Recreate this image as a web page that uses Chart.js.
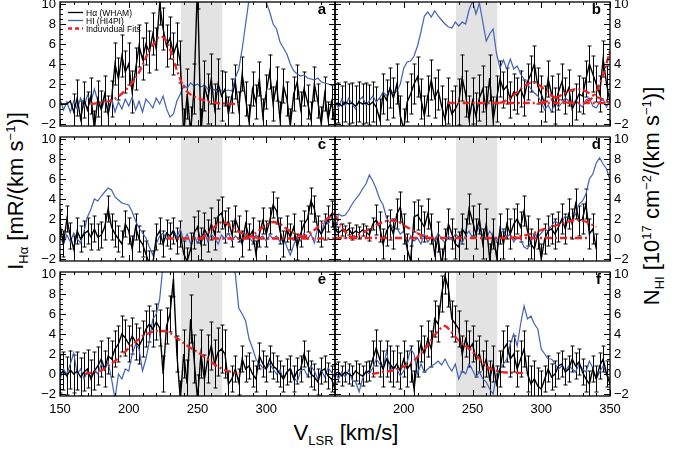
<!DOCTYPE html>
<html>
<head>
<meta charset="utf-8">
<script src="https://cdn.jsdelivr.net/npm/chart.js@4.4.0/dist/chart.umd.min.js"></script>
<style>
  body { margin: 0; background: #fff; }
  #wrap { position: relative; width: 678px; height: 457px; overflow: hidden; background: #fff;
          font-family: "Liberation Sans", Arial, sans-serif; color: #000; }
  canvas { position: absolute; }
  .title { position: absolute; white-space: nowrap; font-size: 22px; line-height: 1; }
  .title sub, .title sup { font-size: 13px; line-height: 0; }
  .rot { transform: translate(-50%, -50%) rotate(-90deg); }
  .hor { transform: translate(-50%, -50%); }
</style>
</head>
<body>
<div id="wrap">
  <div class="title rot" style="left:16px; top:191px;">I<sub>Hα</sub> [mR/(km s<sup>−1</sup>)]</div>
  <div class="title rot" style="left:652px; top:196px;">N<sub>HI</sub> [10<sup>17</sup> cm<sup>−2</sup>/(km s<sup>−1</sup>)]</div>
  <div class="title hor" style="left:346px; top:433px;">V<sub>LSR</sub> [km/s]</div>
</div>
<script>
// velocity grid shared by all spectra (km/s)
const vel = [150,152.5,155,157.5,160,162.5,165,167.5,170,172.5,
             175,177.5,180,182.5,185,187.5,190,192.5,195,197.5,
             200,202.5,205,207.5,210,212.5,215,217.5,220,222.5,
             225,227.5,230,232.5,235,237.5,240,242.5,245,247.5,
             250,252.5,255,257.5,260,262.5,265,267.5,270,272.5,
             275,277.5,280,282.5,285,287.5,290,292.5,295,297.5,
             300,302.5,305,307.5,310,312.5,315,317.5,320,322.5,
             325,327.5,330,332.5,335,337.5,340,342.5,345,347.5,
             350];

const xTicks = [150, 200, 250, 300, 350];
const yTicks = [-2, 0, 2, 4, 6, 8, 10];
const band = [238, 268];
const letters = ['a', 'b', 'c', 'd', 'e', 'f'];
const legendLabels = ['Hα (WHAM)', 'HI (HI4PI)', 'Induvidual Fits'];

// H-alpha (WHAM), mR/(km/s)
const haA = [0,0,0,0.3,-0.8,0.6,-1.5,0.4,-0.6,0.8,
             -2.5,0.5,-0.5,1.0,-1.0,0.5,4.0,2.5,4.8,3.2,
             4.0,1.2,3.5,5.8,4.5,6.0,5.2,7.0,5.5,10.0,
             7.5,5.8,6.6,5.0,6.0,4.2,-3.0,1.0,-2.8,1.5,
             12,-3.0,1.8,0.5,2.5,-0.5,2.0,0.8,1.5,-1.0,
             0.8,2.2,-0.5,3.0,0.5,-1.8,1.5,0.2,2.5,-1.2,
             1.2,3.2,0.0,2.0,-1.5,1.8,0.5,-2.2,1.0,2.2,
             -0.5,1.5,0.2,-1.5,2.0,0.3,-2.0,1.0,-1.5,0.2,
             -2.0];
const haB = [0.0,0.1,-0.2,0.2,0.0,0.1,-0.2,0.2,0.0,0.1,
             -0.1,0.2,-0.3,-1.5,1.0,0.4,1.6,0.6,2.0,-1.2,
             -2.5,0.2,1.0,2.0,2.7,0.5,-1.2,0.8,2.4,0.6,
             1.4,-0.2,-1.5,0.3,-1.0,-0.5,0.2,2.6,1.0,-1.5,
             0.3,-1.2,0.6,1.5,-0.6,2.6,-1.6,0.5,2.5,1.4,
             1.8,0.4,1.2,0.8,1.5,0.6,2.2,3.0,4.0,1.8,
             1.0,0.0,2.5,1.0,-0.2,1.2,2.2,0.8,1.6,-0.5,
             0.2,1.0,0.8,2.5,4.0,3.0,2.0,1.0,4.5,2.0,
             0.2];
const haC = [1.5,-0.5,2.0,0.3,-1.0,0.8,0.0,0.5,0.8,0.2,
             1.0,0.2,0.4,1.2,3.0,1.2,0.5,0.0,-0.5,1.5,
             0.8,-1.0,1.2,0.0,-0.5,-1.5,-2.5,-2.5,0.2,0.8,
             -0.5,0.6,0.3,0.8,-0.2,0.5,-1.5,-2.2,-1.0,0.6,
             1.2,-0.5,1.0,0.3,1.5,0.5,2.3,2.6,1.2,1.8,
             0.5,2.0,1.0,-0.5,1.5,0.2,0.8,-1.5,0.5,1.8,
             0.5,1.8,3.4,2.8,0.8,-0.5,1.0,0.2,1.2,-0.8,
             0.5,1.5,2.0,3.8,3.0,1.0,0.5,1.2,2.0,2.5,
             0.6];
const haD = [1.0,0.6,0.9,0.7,1.0,0.5,0.8,0.6,0.9,0.7,
             0.4,1.5,1.9,1.2,-0.5,0.8,1.4,0.5,2.5,3.2,
             1.0,-1.0,-2.2,2.2,2.4,1.8,1.2,2.5,1.0,-1.5,
             0.2,-2.5,-0.5,1.5,0.5,-0.5,-0.8,1.0,0.5,3.0,
             1.8,0.5,2.0,-0.5,1.5,-2.0,0.5,-1.8,1.0,-0.5,
             1.5,0.5,1.5,2.0,1.2,2.8,0.8,-0.5,-1.0,0.5,
             -2.0,0.0,0.8,1.0,0.5,1.2,2.0,1.0,2.5,1.5,
             3.5,1.8,2.0,3.5,0.5,1.0,-1.0,null,null,null,
             null];
const haE = [0.0,0.3,-0.2,0.4,0.0,0.3,-0.3,0.2,0.5,-0.5,
             0.3,0.8,1.5,0.5,1.8,1.5,2.5,3.0,4.0,3.6,
             3.0,3.8,3.2,2.8,3.5,4.5,5.0,4.5,5.2,4.6,
             0.0,4.8,6.0,9.5,2.0,-2.5,2.0,-1.0,5.5,1.5,
             -2.5,2.0,-0.5,1.5,2.8,1.0,2.2,2.5,2.0,-1.0,
             -0.5,0.5,-0.8,1.5,0.5,0.8,0.0,-0.5,1.8,1.0,
             0.5,1.5,0.8,0.5,0.0,-0.5,0.2,0.5,-0.5,0.3,
             0.5,2.0,1.0,0.0,-0.3,-0.8,0.3,0.5,-0.2,-0.5,
             -1.5];
const haF = [0.0,0.2,-0.2,0.2,0.0,-0.2,0.3,0.0,-0.2,0.2,
             0.3,1.5,2.6,1.5,0.5,1.5,1.0,0.5,1.0,0.3,
             1.5,0.5,1.0,-1.5,1.5,3.0,2.0,3.5,2.5,5.5,
             5.0,8.0,9.8,8.5,5.5,5.0,4.5,2.0,3.5,2.5,
             3.0,1.5,2.0,0.5,1.5,-0.5,1.0,-1.0,0.5,2.5,
             3.0,1.5,2.0,0.5,1.5,2.5,0.0,-1.0,-0.5,-1.2,
             -1.5,-0.5,0.5,-0.3,0.0,0.8,1.0,0.2,0.5,1.5,
             0.8,1.2,0.2,-0.5,-1.0,0.5,-0.5,0.8,1.5,0.0,
             -1.0];

// H-alpha 1-sigma errors: [from, to, error]
const errA = [[150,157.5,0],[160,187.5,1.8],[190,237.5,2.1],[240,267.5,2.5],[270,350,1.7]];
const errB = [[150,230,2.0],[232.5,267.5,2.3],[270,350,1.8]];
const errC = [[150,242.5,1.3],[245,270,1.6],[272.5,350,1.3]];
const errD = [[150,177.5,0.6],[180,340,1.5]];
const errE = [[150,177.5,1.9],[180,237.5,1.8],[240,270,2.4],[272.5,350,1.3]];
const errF = [[150,175,1.0],[177.5,300,1.8],[302.5,350,1.3]];

// HI (HI4PI), 10^17 cm^-2/(km/s)
const hiA = [0.5,-0.6,0.2,-0.8,0.3,-0.5,0.6,-0.3,0.9,0.2,
             1.5,0.3,-0.6,0.4,-0.5,0.6,-0.8,0.2,-0.5,0.5,
             -0.2,0.7,-0.6,0.3,-0.8,0.5,0.1,-0.4,0.6,0.0,
             0.8,-0.5,-1.3,-1.0,0.3,1.0,1.9,1.6,2.1,1.8,
             2.0,1.7,1.9,1.5,1.6,1.4,1.5,1.3,1.3,1.4,
             1.3,2.6,3.5,5.5,8.0,10.5,12,13,13,12,
             10.2,9.2,8.0,7.5,6.2,5.6,5.0,4.0,3.3,3.0,
             2.8,2.9,2.6,2.5,2.4,2.6,2.2,2.1,2.0,1.9,
             1.8];
const hiB = [0.3,-0.4,0.5,-0.2,0.6,0.0,-0.5,0.4,0.7,-0.1,
             0.3,0.8,0.2,0.6,1.2,0.8,1.5,1.0,1.3,2.0,
             3.6,4.2,4.3,4.8,5.8,7.2,8.8,9.2,8.7,9.3,
             8.8,8.4,8.0,7.7,7.6,8.2,7.8,8.2,8.0,9.4,
             10.3,9.0,10.1,8.2,6.3,7.0,7.5,5.0,3.6,4.4,
             3.5,4.5,3.5,3.8,3.0,2.5,2.0,1.5,1.1,0.8,
             0.2,-0.6,-0.1,-0.8,0.2,-0.3,0.1,0.6,0.3,-0.2,
             0.4,0.0,-0.3,0.4,0.6,-0.2,-0.4,0.2,0.5,-0.3,
             0.4];
const hiC = [0.2,-0.5,0.4,-0.3,0.6,0.0,-0.4,0.8,2.2,3.0,
             4.0,3.8,4.3,4.7,5.1,4.9,4.2,3.9,3.6,3.5,
             3.4,2.7,1.8,1.1,0.6,0.1,-0.8,-1.6,-0.5,0.3,
             0.6,0.0,0.4,0.9,0.2,1.0,-0.2,0.5,-0.5,0.4,
             -0.4,0.3,0.6,-0.3,0.5,0.1,-0.5,0.4,0.0,0.6,
             -0.2,0.3,0.0,-0.4,0.5,0.2,-0.3,0.4,0.1,0.3,
             -0.2,0.4,0.0,0.3,-0.3,0.2,-0.8,-1.6,-0.6,0.3,
             -0.2,0.6,0.0,0.5,-0.4,1.2,0.5,1.8,1.5,2.1,
             1.9];
const hiD = [0.2,2.5,2.3,2.4,2.9,3.5,4.0,4.4,5.0,5.5,
             6.4,5.8,5.0,4.0,3.4,2.1,1.6,1.0,1.1,0.5,
             0.8,-0.5,0.3,-0.2,0.1,-0.5,0.5,-0.3,0.2,-0.2,
             0.6,0.0,-0.4,0.3,-0.1,0.5,0.2,-0.4,0.4,0.8,
             0.1,0.6,1.2,0.3,0.0,0.8,0.2,-0.2,0.4,0.9,
             0.2,0.5,-0.3,0.2,0.0,-0.8,-1.0,-0.3,0.5,0.2,
             0.6,1.0,0.8,1.3,1.8,1.5,1.7,2.3,2.0,1.9,
             2.5,3.5,3.8,4.5,6.0,6.5,7.6,8.1,7.5,7.0,
             5.9];
const hiE = [-0.5,0.5,0.0,1.0,2.1,0.0,0.5,-0.5,0.3,-0.3,
             0.4,0.0,1.0,0.4,1.2,-0.5,-2.5,0.0,-0.5,0.5,
             0.3,2.0,3.0,2.5,0.3,1.5,3.3,5.5,6.0,7.5,
             11,14,16,18,19,20,20,20,20,20,
             20,20,20,20,19,18,17,15,13.5,12,
             11,10,6.6,6.0,5.3,3.5,2.6,1.5,1.0,0.6,
             0.5,1.0,0.5,0.0,0.4,-0.5,0.2,0.6,-0.3,-0.8,
             0.3,0.5,-0.2,0.8,0.3,-0.5,0.4,-0.3,0.6,0.2,
             -0.4];
const hiF = [0.3,-0.5,0.2,-0.3,0.4,-0.6,-0.8,-1.8,-0.5,0.3,
             0.0,0.6,1.5,1.0,0.5,2.3,0.3,0.8,0.5,-0.2,
             0.3,1.2,2.5,2.0,0.0,1.0,0.2,0.5,0.8,1.0,
             1.3,0.9,1.5,0.8,0.3,1.0,-0.5,0.3,0.0,1.0,
             0.4,-0.3,0.2,-0.5,-0.8,-1.5,-2.0,0.0,0.5,1.0,
             1.5,3.0,4.0,2.8,5.0,6.8,5.5,5.8,5.0,4.5,
             2.5,2.0,1.5,1.5,1.0,0.5,0.8,0.3,0.8,0.5,
             0.2,1.0,0.5,0.2,1.3,0.6,-0.5,0.2,0.8,0.0,
             -0.5];

// individual Gaussian fits (velocity, intensity)
const fitAV = [172,180,186,192,197,203,208,213,218,223,227,230,232,235,238,242,247,252,258,264,270,280];
const fitAI = [0,0.15,0.3,0.7,1.3,2.2,3.3,4.8,6.0,6.75,6.4,5.5,4.6,3.4,2.3,1.3,0.8,0.5,0.25,0.1,0.05,0];
const fitB0V = [232,350];
const fitB0I = [0.1,0.1];
const fitB1V = [270,275,280,285,290,293,297,302,307,312,317,322];
const fitB1I = [0.1,0.4,0.9,1.5,2.0,2.15,2.0,1.5,0.9,0.5,0.2,0.1];
const fitB2V = [300,305,310,315,320,326,332,337,342,347,350];
const fitB2I = [0.1,0.3,0.6,0.9,1.3,1.5,1.3,0.9,0.6,0.4,0.3];
const fitB3V = [333,337,340,343,346,348,350];
const fitB3I = [0.2,0.6,1.2,2.2,3.3,4.3,5.3];
const fitC0V = [228,350];
const fitC0I = [0.05,0.05];
const fitC1V = [252,256,260,264,268,272,277,282,288,294];
const fitC1I = [0,0.4,0.9,1.4,1.7,1.5,1.0,0.6,0.3,0.1];
const fitC2V = [285,290,295,300,305,310,315,320,325,330];
const fitC2I = [0.1,0.4,0.9,1.4,1.7,1.5,1.0,0.6,0.3,0.1];
const fitC3V = [325,330,335,340,345,350];
const fitC3I = [0.1,0.4,0.9,1.5,2.1,2.6];
const fitD0V = [150,335];
const fitD0I = [0.1,0.1];
const fitD1V = [150,153,156,159,162,166];
const fitD1I = [2.4,1.7,1.0,0.5,0.2,0.1];
const fitD2V = [160,165,170,175,180,185,191,196,201,206,211,216,222];
const fitD2I = [0.1,0.3,0.6,1.0,1.4,1.7,1.85,1.7,1.3,0.9,0.5,0.3,0.1];
const fitD3V = [277,285,292,300,307,314,320,326,331,336,340];
const fitD3I = [0.1,0.3,0.5,0.9,1.2,1.5,1.75,1.9,1.8,1.5,1.2];
const fitEV = [168,175,180,185,190,195,200,205,210,215,220,225,230,236,240,245,251,256,260,263,268,273,281];
const fitEI = [0,0.2,0.35,0.8,1.3,1.9,2.6,3.2,3.8,4.1,4.3,4.3,4.1,3.5,3.1,2.6,2.1,1.6,1.2,0.9,0.5,0.25,0.05];
const fitFV = [177,185,195,202,207,212,217,221,225,230,234,239,244,249,253,258,262,268,275,289];
const fitFI = [0,0.2,0.45,0.9,1.3,2.0,2.8,3.6,4.3,4.8,4.3,3.5,2.9,2.4,1.8,1.1,0.6,0.3,0.15,0.1];

const panels = [
  { ha: haA, hi: hiA, err: errA, fits: [[fitAV, fitAI]] },
  { ha: haB, hi: hiB, err: errB, fits: [[fitB0V, fitB0I], [fitB1V, fitB1I], [fitB2V, fitB2I], [fitB3V, fitB3I]] },
  { ha: haC, hi: hiC, err: errC, fits: [[fitC0V, fitC0I], [fitC1V, fitC1I], [fitC2V, fitC2I], [fitC3V, fitC3I]] },
  { ha: haD, hi: hiD, err: errD, fits: [[fitD0V, fitD0I], [fitD1V, fitD1I], [fitD2V, fitD2I], [fitD3V, fitD3I]] },
  { ha: haE, hi: hiE, err: errE, fits: [[fitEV, fitEI]] },
  { ha: haF, hi: hiF, err: errF, fits: [[fitFV, fitFI]] }
];

const FONT = '"Liberation Sans", Arial, sans-serif';
const BLUE = '#4262b6';
const RED = '#ee2020';
const colLeft = [60, 335], rowTop = [2, 137, 272];
const PW = 275, PH = 124, ML = 50, MT = 12, MB = 26;
const Y0 = -2.2, Y1 = 10.2;

function errFor(segs, v) {
  for (const s of segs) if (v >= s[0] && v <= s[1]) return s[2];
  return 0;
}

function decor(p, idx) {
  return {
    id: 'decor' + idx,
    beforeDatasetsDraw(chart) {
      const { ctx, chartArea: a, scales: { x, y } } = chart;
      ctx.save();
      const b0 = x.getPixelForValue(band[0]), b1 = x.getPixelForValue(band[1]);
      ctx.fillStyle = '#e3e3e3';
      ctx.fillRect(b0, a.top, b1 - b0, a.bottom - a.top);
      ctx.beginPath();
      ctx.rect(a.left, a.top, a.right - a.left, a.bottom - a.top);
      ctx.clip();
      ctx.beginPath();
      vel.forEach((v, i) => {
        const val = p.ha[i];
        const e = errFor(p.err, v);
        if (val === null || !e) return;
        const px = Math.round(x.getPixelForValue(v)) + 0.5;
        const t = y.getPixelForValue(val + e), b = y.getPixelForValue(val - e);
        ctx.moveTo(px, t); ctx.lineTo(px, b);
        ctx.moveTo(px - 2, t); ctx.lineTo(px + 2, t);
        ctx.moveTo(px - 2, b); ctx.lineTo(px + 2, b);
      });
      ctx.strokeStyle = '#000';
      ctx.lineWidth = 1;
      ctx.stroke();
      ctx.restore();
    },
    afterDraw(chart) {
      const { ctx, chartArea: a, scales: { x, y } } = chart;
      ctx.save();
      ctx.strokeStyle = '#000';
      ctx.lineWidth = 1;
      ctx.beginPath();
      for (let t = -2; t <= 10; t += 0.5) {
        const py = Math.round(y.getPixelForValue(t)) + 0.5;
        const len = t % 2 === 0 ? 6 : 3;
        ctx.moveTo(a.left, py); ctx.lineTo(a.left + len, py);
        ctx.moveTo(a.right, py); ctx.lineTo(a.right - len, py);
      }
      for (let t = 150; t <= 350; t += 10) {
        const px = Math.round(x.getPixelForValue(t)) + 0.5;
        const len = t % 50 === 0 ? 6 : 3;
        ctx.moveTo(px, a.top); ctx.lineTo(px, a.top + len);
        ctx.moveTo(px, a.bottom); ctx.lineTo(px, a.bottom - len);
      }
      ctx.stroke();
      ctx.lineWidth = 1.3;
      ctx.strokeRect(a.left, a.top, a.right - a.left, a.bottom - a.top);

      // panel letter
      ctx.fillStyle = '#000';
      ctx.font = 'bold 15px ' + FONT;
      ctx.textAlign = 'right';
      ctx.textBaseline = 'alphabetic';
      ctx.fillText(letters[idx], a.right - 9, a.top + 12);

      // legend in first panel
      if (idx === 0) {
        const styles = [
          { c: '#000', w: 1.3, d: [] },
          { c: BLUE, w: 1.3, d: [] },
          { c: RED, w: 2.5, d: [4, 3] }
        ];
        ctx.font = '8.5px ' + FONT;
        ctx.textAlign = 'left';
        legendLabels.forEach((lab, k) => {
          const ly = a.top + 10.5 + k * 8;
          ctx.beginPath();
          ctx.strokeStyle = styles[k].c;
          ctx.lineWidth = styles[k].w;
          ctx.setLineDash(styles[k].d);
          ctx.moveTo(a.left + 8, ly); ctx.lineTo(a.left + 23, ly);
          ctx.stroke();
          ctx.setLineDash([]);
          ctx.fillText(lab, a.left + 26, ly + 3);
        });
      }
      ctx.restore();
    }
  };
}

const wrap = document.getElementById('wrap');
const tickFont = { family: FONT, size: 13 };

panels.forEach((p, idx) => {
  const col = idx % 2, row = Math.floor(idx / 2);
  const cv = document.createElement('canvas');
  cv.width = PW + 2 * ML;
  cv.height = PH + MT + MB;
  cv.style.left = (colLeft[col] - ML) + 'px';
  cv.style.top = (rowTop[row] - MT) + 'px';
  wrap.appendChild(cv);

  const datasets = [];
  p.fits.forEach(f => datasets.push({
    data: f[0].map((v, i) => ({ x: v, y: f[1][i] })),
    borderColor: RED, borderWidth: 2.3, borderDash: [7, 3, 2, 3],
    pointRadius: 0, cubicInterpolationMode: 'monotone', order: 0
  }));
  datasets.push({
    data: vel.map((v, i) => ({ x: v, y: p.ha[i] })),
    borderColor: '#000', borderWidth: 1.4, pointRadius: 0, order: 1
  });
  datasets.push({
    data: vel.map((v, i) => ({ x: v, y: p.hi[i] })),
    borderColor: BLUE, borderWidth: 1.2, pointRadius: 0, order: 2
  });

  const yAxis = (pos, show) => ({
    position: pos, min: Y0, max: Y1,
    afterBuildTicks: s => { s.ticks = yTicks.map(v => ({ value: v })); },
    afterFit: s => { s.width = ML; },
    grid: { display: false, drawTicks: false },
    border: { display: false },
    ticks: { display: show, padding: 4, color: '#000', font: tickFont,
             callback: v => v < 0 ? '−' + Math.abs(v) : String(v) }
  });

  new Chart(cv, {
    type: 'line',
    data: { datasets },
    options: {
      responsive: false, animation: false, devicePixelRatio: 1,
      layout: { padding: { top: MT, left: 0, right: 0, bottom: 0 } },
      plugins: { legend: { display: false }, tooltip: { enabled: false } },
      scales: {
        x: {
          type: 'linear', min: 150, max: 350,
          afterBuildTicks: s => { s.ticks = xTicks.map(v => ({ value: v })); },
          afterFit: s => { s.height = MB; },
          grid: { display: false, drawTicks: false },
          border: { display: false },
          ticks: { display: row === 2, padding: 6, color: '#000', font: tickFont, maxRotation: 0,
                   callback: v => (col === 0 && v === 350) || (col === 1 && v === 150) ? '' : String(v) }
        },
        y: yAxis('left', col === 0),
        y2: yAxis('right', col === 1)
      }
    },
    plugins: [decor(p, idx)]
  });
});
</script>
</body>
</html>
